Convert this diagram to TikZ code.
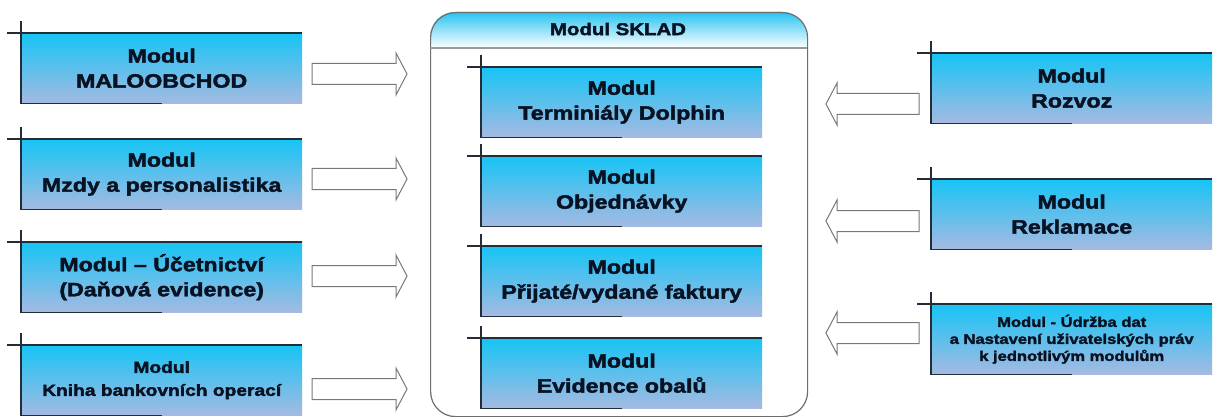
\documentclass[tikz,border=0pt]{standalone}
\usepackage{fontspec}
\newfontfamily\bx{Liberation Sans Bold}[FakeStretch=1.2,FakeBold=2.2]
\definecolor{boxtop}{RGB}{22,196,245}
\definecolor{boxbot}{RGB}{165,186,226}
\definecolor{txt}{RGB}{8,18,35}
\definecolor{frame}{RGB}{35,45,55}
\definecolor{hdr}{RGB}{40,195,240}
\definecolor{contline}{RGB}{110,110,110}
\definecolor{arrline}{RGB}{120,120,120}
\tikzset{
  mbox/.style={rectangle, minimum width=281pt, minimum height=70pt, anchor=north west,
    top color=boxtop, bottom color=boxbot, align=center, text=txt, inner sep=0pt,
    font=\bx\fontsize{19.3}{25}\selectfont},
  smallbox/.style={mbox, font=\bx\fontsize{16}{23}\selectfont},
  tinybox/.style={mbox, font=\bx\fontsize{13.8}{17}\selectfont},
  frameline/.style={draw=frame, line width=1.5pt},
  blockarrow/.style={draw=arrline, fill=white, line width=1pt, line join=miter},
  container/.style={draw=contline, line width=1.2pt, rounded corners=25pt, rectangle,
    minimum width=377pt, minimum height=404pt, anchor=north west, inner sep=0pt},
  hdrline/.style={draw=contline!70, line width=1.8pt},
  hdrtext/.style={text=txt, font=\bx\fontsize{17}{20}\selectfont, inner sep=0pt}
}
\newcommand\deco[1]{%
  \draw[frameline] ([xshift=-14pt]#1.north west) -- (#1.north east);
  \draw[frameline] ([yshift=12pt]#1.north west) -- (#1.south west) -- ([xshift=141pt]#1.south west);}
\newcommand\rarr[2]{% right-pointing arrow, tail x=312, centre y=#2
  \coordinate (#1) at (312,#2);
  \draw[blockarrow] ([yshift=10.5pt]#1) -- ++(84,0) -- ++(0,-10.5) -- ++(11,21) -- ++(-11,21) -- ++(0,-10.5) -- ++(-84,0) -- cycle;}
\newcommand\larr[2]{% left-pointing arrow, tail x=919, centre y=#2
  \coordinate (#1) at (919,#2);
  \draw[blockarrow] ([yshift=10.5pt]#1) -- ++(-82,0) -- ++(0,-10.5) -- ++(-11,21) -- ++(11,21) -- ++(0,-10.5) -- ++(82,0) -- cycle;}
\begin{document}
\begin{tikzpicture}[x=1pt,y=-1pt]
\useasboundingbox (0,0) rectangle (1213,417);
\fill[white] (0,0) rectangle (1213,417);

% container
\begin{scope}
  \clip[rounded corners=25pt] (430,12) rectangle (807,416);
  \shade[top color=hdr, bottom color=white] (430,12) rectangle (807,48);
\end{scope}
\node[container] (sk) at (430,12) {};
\coordinate (hl) at (430,48);
\coordinate (hr) at (807,48);
\draw[hdrline] (hl) -- (hr);
\node[hdrtext] (skt) at (618,29) {Modul SKLAD};

% left boxes
\node[mbox] (L1) at (21,33) {Modul\\MALOOBCHOD};
\node[mbox] (L2) at (21,139) {Modul\\Mzdy a personalistika};
\node[mbox] (L3) at (21,242) {Modul – Účetnictví\\(Daňová evidence)};
\node[smallbox] (L4) at (21,345) {Modul\\Kniha bankovních operací};
\deco{L1}\deco{L2}\deco{L3}\deco{L4}

% middle boxes
\node[mbox] (M1) at (481,67) {Modul\\Terminiály Dolphin};
\node[mbox] (M2) at (481,156) {Modul\\Objednávky};
\node[mbox] (M3) at (481,246) {Modul\\Přijaté/vydané faktury};
\node[mbox] (M4) at (481,338) {Modul\\Evidence obalů};
\deco{M1}\deco{M2}\deco{M3}\deco{M4}

% right boxes
\node[mbox] (R1) at (931,53) {Modul\\Rozvoz};
\node[mbox] (R2) at (931,179) {Modul\\Reklamace};
\node[tinybox] (R3) at (931,304) {Modul - Údržba dat\\a Nastavení uživatelských práv\\k jednotlivým modulům};
\deco{R1}\deco{R2}\deco{R3}

% block arrows
\rarr{la1}{74}
\rarr{la2}{179}
\rarr{la3}{276}
\rarr{la4}{389}
\larr{ra1}{104}
\larr{ra2}{221}
\larr{ra3}{333}
\end{tikzpicture}
\end{document}
